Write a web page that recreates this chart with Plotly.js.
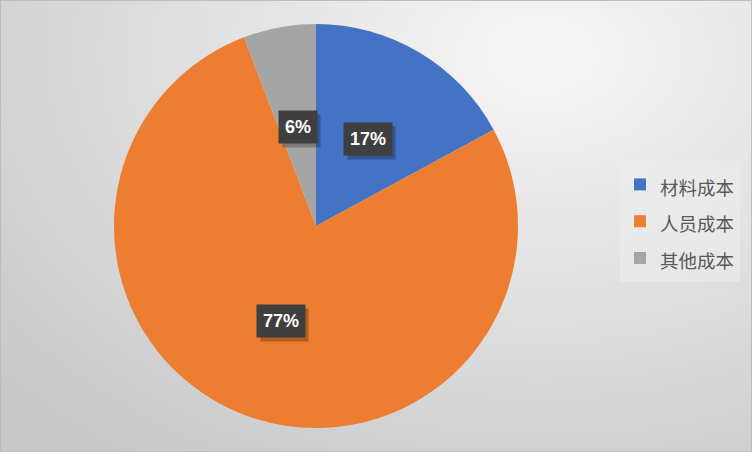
<!DOCTYPE html>
<html>
<head>
<meta charset="utf-8">
<script src="https://cdn.plot.ly/plotly-3.0.1.min.js"></script>
<style>
  html, body { margin:0; padding:0; width:752px; height:452px; overflow:hidden; }
  #wrap {
    position:absolute; left:0; top:0; width:750px; height:450px;
    border:1px solid #bdbdbd;
    background: radial-gradient(ellipse 95% 110% at 72% 12%, #f6f6f6 0%, #e2e2e2 45%, #c8c8c8 100%);
  }
  #chart { width:750px; height:450px; }
</style>
</head>
<body>
<div id="wrap"><div id="chart"></div></div>
<script>
// ---- data ----
const categories = ['材料成本', '人员成本', '其他成本'];
const values = [17.1, 77.1, 5.8];
const colors = ['#4472C4', '#ED7D31', '#A5A5A5'];

// ---- layout constants ----
const W = 750, H = 450;
const domX = [113 / W, 517 / W];
const domY = [1 - 427 / H, 1 - 23 / H];

// label annotations positioned from the data (slice midpoints, half radius)
const total = values.reduce((a, b) => a + b, 0);
const Rpx = Math.min((domX[1] - domX[0]) * W, (domY[1] - domY[0]) * H) / 2;
const cx = (domX[0] + domX[1]) / 2, cy = (domY[0] + domY[1]) / 2;
const annotations = [];
let cum = 0;
values.forEach((v, i) => {
  const mid = (cum + v / 2) / total * 2 * Math.PI; // clockwise from 12 o'clock
  cum += v;
  const r = 0.5 * Rpx;
  const x = cx + r * Math.sin(mid) / W;
  const y = cy + r * Math.cos(mid) / H;
  const pct = Math.round(v / total * 100) + '%';
  const txt = '<b>' + pct + '</b>';
  // drop shadow box of same width, made of non-breaking spaces (no visible text)
  const emW = (pct.length - 1) * 0.556 + 0.889;
  const pad = '&nbsp;'.repeat(Math.round(emW / 0.278));
  annotations.push({
    x: x, y: y, xref: 'paper', yref: 'paper', showarrow: false,
    xanchor: 'center', yanchor: 'middle',
    text: '<b>' + pad + '</b>', xshift: 4, yshift: -4,
    font: { family: 'Liberation Sans, Arial, sans-serif', size: 18, color: 'rgba(0,0,0,0)' },
    bgcolor: 'rgba(0,0,0,0.25)', borderpad: 6
  });
  annotations.push({
    x: x, y: y, xref: 'paper', yref: 'paper', showarrow: false,
    xanchor: 'center', yanchor: 'middle',
    text: txt,
    font: { family: 'Liberation Sans, Arial, sans-serif', size: 18, color: '#ffffff' },
    bgcolor: '#3f3f3f', borderpad: 6
  });
});

const trace = {
  type: 'pie',
  labels: categories.map(c => '<span style="font-size:18.5px">' + c + '</span>'),
  values: values,
  sort: false,
  direction: 'clockwise',
  rotation: 0,
  marker: { colors: colors, line: { width: 0 } },
  textinfo: 'none',
  hoverinfo: 'none',
  domain: { x: domX, y: domY }
};

const layout = {
  width: W, height: H,
  margin: { l: 0, r: 0, t: 0, b: 0 },
  paper_bgcolor: 'rgba(0,0,0,0)',
  plot_bgcolor: 'rgba(0,0,0,0)',
  showlegend: true,
  legend: {
    x: 619 / W, xanchor: 'left',
    y: 1 - 160 / H, yanchor: 'top',
    bgcolor: 'rgba(236,236,236,0.6)',
    borderwidth: 0,
    font: { family: 'Noto Sans CJK SC, sans-serif', size: 26, color: '#595959' },
    itemwidth: 30
  },
  annotations: annotations
};

Plotly.newPlot('chart', [trace], layout, { staticPlot: true, displayModeBar: false });
</script>
</body>
</html>
